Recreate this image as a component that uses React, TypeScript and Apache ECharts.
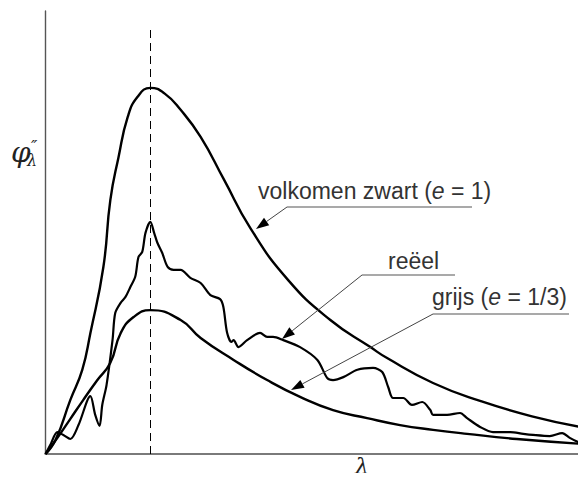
import React, { useEffect, useRef } from "react";
import * as echarts from "echarts";

// Wavelength axis runs 0..100 (arbitrary units), intensity 0..121 (blackbody peak = 100)
const X_MAX = 100;
const Y_MAX = 121;
const PEAK_WAVELENGTH = 19.4;

// Ideal black body (e = 1)
const blackbody: [number, number][] = [
  [0, 0], [1.85, 3.8], [4.6, 14.8], [6.8, 23], [8.3, 33], [10.7, 51], [12, 69.4],
  [13.5, 81], [15.2, 92], [17, 97.5], [19.4, 100], [22, 98.5], [25, 94], [28.7, 86.6],
  [33, 75], [37.9, 61.7], [44.9, 47.5], [52.7, 36.6], [60.1, 29.2], [63.2, 26.2],
  [71.7, 19.4], [80.4, 14.5], [90, 10.3], [100, 7.1],
];

// Grey body (e = 1/3)
const greyBody: [number, number][] = [
  [0, 0], [2.2, 4.4], [4.6, 9.6], [7, 14.8], [9.5, 20], [12, 24.9], [13.9, 33],
  [16.3, 37.4], [19.4, 39.3], [25, 36.6], [28.7, 31.7], [34.8, 25.7], [41, 20.2],
  [47.1, 15.6], [53.2, 12], [59.5, 9.8], [65.6, 7.9], [71.7, 6.6], [78, 5.5],
  [87.2, 4.1], [100, 2.7],
];

// Measured (real) surface
const realSurface: [number, number][] = [
  [0, 0], [0.9, 2.5], [2.2, 6.0], [3.3, 5.2], [4.6, 4.1], [6.1, 7.9], [8.3, 15.8],
  [9.2, 10.7], [10.0, 7.7], [10.5, 13.4], [11.3, 18.9], [12.4, 31.1], [12.9, 38.5],
  [13.9, 41.3], [14.8, 42.9], [15.7, 45.6], [16.6, 48.4], [17.2, 53.8], [17.9, 55.2],
  [18.5, 60.4], [19.4, 63.4], [20.1, 60.4], [20.7, 57.7], [21.6, 54.9], [22.6, 51.1],
  [23.7, 50.3], [25.0, 50.3], [26.8, 48.1], [28.7, 46.7], [30.5, 43.4], [32.3, 42.3],
  [32.9, 40.2], [33.6, 33.1], [34.4, 30.6], [34.8, 31.1], [35.7, 29.2], [37.3, 31.1],
  [39.7, 33.1], [41.0, 32.0], [42.1, 32.0], [44.0, 31.1], [47.1, 29.2], [50.3, 25.7],
  [52.1, 20.8], [53.2, 20.2], [55.1, 21.0], [57.7, 23.0], [60.6, 23.5], [62.3, 22.4],
  [63.4, 18.3], [64.3, 15.3], [66.2, 15.3], [67.8, 13.4], [69.7, 14.2], [71.2, 12.0],
  [71.7, 10.7], [74.3, 10.7], [76.7, 11.2], [78.0, 9.8], [80.4, 7.4], [82.8, 6.0],
  [86.0, 6.0], [88.4, 5.5], [90.2, 5.2], [93.3, 4.9], [95.6, 5.7], [97.0, 4.4],
  [98.5, 3.3], [100, 2.7],
];

const FONT = "Liberation Sans";
const SERIF = "DejaVu Serif";

// Leader line with a filled arrowhead pointing at (tx, ty)
function leader(sx: number, sy: number, tx: number, ty: number) {
  const dx = tx - sx;
  const dy = ty - sy;
  const len = Math.hypot(dx, dy);
  const ux = dx / len;
  const uy = dy / len;
  const headLen = 13;
  const halfW = 4.5;
  const bx = tx - ux * headLen;
  const by = ty - uy * headLen;
  return [
    {
      type: "line",
      shape: { x1: sx, y1: sy, x2: bx, y2: by },
      style: { stroke: "#444", lineWidth: 1 },
      z: 10,
    },
    {
      type: "polygon",
      shape: {
        points: [
          [tx, ty],
          [bx - uy * halfW, by + ux * halfW],
          [bx + uy * halfW, by - ux * halfW],
        ],
      },
      style: { fill: "#000" },
      z: 10,
    },
  ];
}

function underline(x1: number, x2: number, y: number) {
  return {
    type: "line",
    shape: { x1, y1: y, x2, y2: y },
    style: { stroke: "#555", lineWidth: 1.2 },
    z: 10,
  };
}

function label(x: number, y: number, text: string) {
  return {
    type: "text",
    x,
    y,
    style: {
      text,
      fontSize: 23,
      fontFamily: FONT,
      fill: "#333",
      verticalAlign: "middle",
      rich: {
        i: { fontStyle: "italic", fontSize: 23, fontFamily: FONT, fill: "#333" },
      },
    },
    z: 10,
  };
}

function symbolText(x: number, y: number, text: string, size: number, align = "left") {
  return {
    type: "text",
    x,
    y,
    style: {
      text,
      fontSize: size,
      fontStyle: "italic",
      fontFamily: SERIF,
      fill: "#222",
      align,
      verticalAlign: "middle",
    },
    z: 10,
  };
}

export default function App() {
  const ref = useRef<HTMLDivElement>(null);

  useEffect(() => {
    if (!ref.current) return;
    const chart = echarts.init(ref.current, undefined, { renderer: "svg" });

    const curve = (name: string, data: [number, number][], width: number, smooth: number) => ({
      name,
      type: "line",
      data,
      showSymbol: false,
      smooth,
      lineStyle: { color: "#000", width },
      z: 3,
      silent: true,
    });

    chart.setOption({
      animation: false,
      backgroundColor: "#fff",
      grid: { left: 45.5, right: 0, top: 11, bottom: 27 },
      xAxis: {
        type: "value",
        min: 0,
        max: X_MAX,
        axisLine: { show: true, lineStyle: { color: "#7a7a7a", width: 2 } },
        axisTick: { show: false },
        axisLabel: { show: false },
        splitLine: { show: false },
      },
      yAxis: {
        type: "value",
        min: 0,
        max: Y_MAX,
        axisLine: { show: true, lineStyle: { color: "#555", width: 1.4 } },
        axisTick: { show: false },
        axisLabel: { show: false },
        splitLine: { show: false },
      },
      series: [
        {
          ...curve("volkomen zwart", blackbody, 2.4, 0.5),
          markLine: {
            silent: true,
            symbol: ["none", "none"],
            label: { show: false },
            lineStyle: { color: "#000", width: 1, type: [8, 5] },
            data: [[{ coord: [PEAK_WAVELENGTH, 0] }, { coord: [PEAK_WAVELENGTH, 117] }]],
          },
        },
        curve("grijs", greyBody, 2.4, 0.5),
        curve("reëel", realSurface, 2.2, 0.3),
      ],
      graphic: [
        // y-axis label: φ with a double prime over the subscript λ
        symbolText(11, 152, "φ", 28),
        symbolText(27, 160, "λ", 16),
        symbolText(31, 146, "″", 17),
        // x-axis label λ
        symbolText(362, 466, "λ", 22, "center"),
        label(258, 191, "volkomen zwart ({i|e} = 1)"),
        underline(287, 472, 207),
        ...leader(287, 207, 256, 229),
        label(388, 261, "reëel"),
        underline(362, 455, 275),
        ...leader(362, 275, 282, 339),
        label(432, 297, "grijs ({i|e} = 1/3)"),
        underline(433, 569, 314),
        ...leader(433, 314, 291, 390),
      ],
    });

    return () => chart.dispose();
  }, []);

  return <div ref={ref} style={{ width: 586, height: 481, margin: -8 }} />;
}
